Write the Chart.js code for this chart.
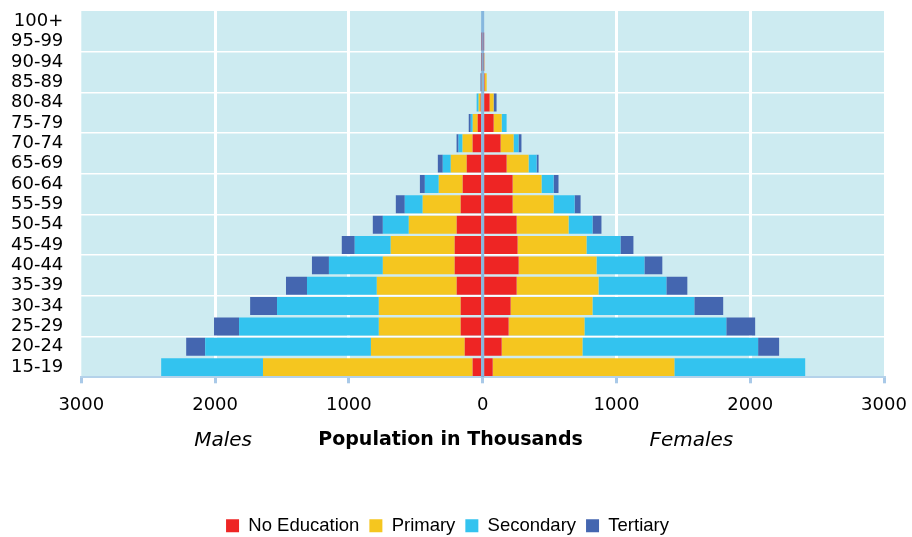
<!DOCTYPE html>
<html>
<head>
<meta charset="utf-8">
<script src="https://cdn.jsdelivr.net/npm/chart.js@4.4.1/dist/chart.umd.min.js"></script>
<style>
  html, body { margin: 0; padding: 0; background: #fff; }
  #wrap { width: 912px; height: 537px; }
</style>
</head>
<body>
<div id="wrap"><canvas id="chart"></canvas></div>
<script>
// age groups, top to bottom as in the picture
const ageGroups = ['100+', '95-99', '90-94', '85-89', '80-84', '75-79', '70-74', '65-69', '60-64',
  '55-59', '50-54', '45-49', '40-44', '35-39', '30-34', '25-29', '20-24', '15-19'];

// population in thousands, males
const maleNoEducation = [0, 1, 3, 8, 15, 37, 75, 119, 149, 164, 194, 209, 209, 194, 164, 164, 134, 75];
const malePrimary     = [0, 1, 5, 4, 15, 37, 75, 119, 179, 284, 358, 478, 537, 597, 612, 612, 701, 1567];
const maleSecondary   = [0, 0, 0, 0, 15, 15, 30, 60, 104, 134, 194, 269, 403, 522, 761, 1045, 1239, 761];
const maleTertiary    = [0, 0, 0, 4, 0, 15, 15, 37, 37, 67, 75, 97, 127, 157, 201, 187, 142, 0];

// population in thousands, females
const femaleNoEducation = [0, 2, 4, 15, 52, 82, 134, 179, 224, 224, 254, 261, 269, 254, 209, 194, 142, 75];
const femalePrimary     = [0, 1, 8, 15, 30, 60, 97, 164, 216, 306, 388, 515, 582, 612, 612, 567, 604, 1358];
const femaleSecondary   = [0, 0, 0, 0, 0, 37, 37, 60, 90, 157, 179, 254, 358, 507, 761, 1060, 1313, 978];
const femaleTertiary    = [0, 0, 0, 0, 22, 0, 22, 15, 37, 45, 67, 97, 134, 157, 216, 216, 157, 0];

const levels = ['No Education', 'Primary', 'Secondary', 'Tertiary'];
const colors = ['#ee2524', '#f5c61f', '#33c3ef', '#4466b0'];

const males = [maleNoEducation, malePrimary, maleSecondary, maleTertiary];
const females = [femaleNoEducation, femalePrimary, femaleSecondary, femaleTertiary];

const makeSet = (label, values, color) => ({
  label: label,
  data: values,
  backgroundColor: color,
  borderWidth: 0,
  barPercentage: 0.88,
  categoryPercentage: 1
});

const datasets = [
  ...males.map((arr, i) => makeSet(levels[i], arr.map(v => -v), colors[i])),
  ...females.map((arr, i) => makeSet(levels[i], arr, colors[i]))
];

// light blue plot background
const plotBg = {
  id: 'plotBg',
  beforeDraw(chart) {
    const {ctx, chartArea: a} = chart;
    ctx.save();
    ctx.fillStyle = '#cdebf1';
    ctx.fillRect(a.left, a.top, a.right - a.left, a.bottom - a.top);
    ctx.restore();
  }
};

// zero line over the bars + the texts under the axis
const extras = {
  id: 'extras',
  afterDatasetsDraw(chart) {
    const {ctx, chartArea: a} = chart;
    const x0 = chart.scales.x.getPixelForValue(0);
    ctx.save();
    ctx.strokeStyle = 'rgba(110,165,215,0.75)';
    ctx.lineWidth = 3;
    ctx.beginPath();
    ctx.moveTo(x0, a.top);
    ctx.lineTo(x0, a.bottom);
    ctx.stroke();
    ctx.restore();
  },
  afterDraw(chart) {
    const {ctx} = chart;
    const xs = chart.scales.x;
    const y = xs.top + 63;
    ctx.save();
    ctx.fillStyle = '#000';
    ctx.textBaseline = 'middle';
    ctx.textAlign = 'center';
    ctx.font = 'italic 20px "DejaVu Sans"';
    ctx.fillText('Males', xs.getPixelForValue(-1940), y);
    ctx.fillText('Females', xs.getPixelForValue(1560), y);
    ctx.font = 'bold 19px "DejaVu Sans"';
    ctx.fillText('Population in Thousands', xs.getPixelForValue(-240), y);
    ctx.restore();
  }
};

new Chart(document.getElementById('chart'), {
  type: 'bar',
  data: { labels: ageGroups, datasets: datasets },
  options: {
    indexAxis: 'y',
    responsive: true,
    maintainAspectRatio: false,
    animation: false,
    layout: { padding: { left: 11, right: 28, top: 11, bottom: -8 } },
    scales: {
      x: {
        stacked: true,
        min: -3000,
        max: 3000,
        afterFit(scale) { scale.height += 79; },
        ticks: {
          stepSize: 1000,
          padding: 5,
          color: '#000',
          font: { family: 'DejaVu Sans', size: 18, lineHeight: 1.9 },
          callback: v => Math.abs(v)
        },
        grid: {
          color: c => (c.tick && (c.tick.value === 0 || Math.abs(c.tick.value) === 3000)) ? 'rgba(0,0,0,0)' : '#ffffff',
          lineWidth: 3,
          tickColor: '#a9c9e8',
          tickLength: 6
        },
        border: { color: '#b4d2ea', width: 2 }
      },
      y: {
        stacked: true,
        ticks: {
          autoSkip: false,
          padding: 0,
          color: '#000',
          font: { family: 'DejaVu Sans', size: 18, lineHeight: 1 }
        },
        grid: {
          offset: true,
          drawTicks: true,
          tickLength: 18,
          tickColor: 'rgba(0,0,0,0)',
          lineWidth: 1.5,
          color: c => (c.index > 0 && c.index < ageGroups.length && c.index % 2 === 0) ? '#ffffff' : 'rgba(0,0,0,0)'
        },
        border: { display: false }
      }
    },
    plugins: {
      tooltip: { enabled: false },
      legend: {
        position: 'bottom',
        labels: {
          filter: item => item.datasetIndex >= 4,
          boxWidth: 13,
          boxHeight: 13,
          padding: 10,
          color: '#000',
          font: { family: 'Liberation Sans', size: 18.5 }
        }
      }
    }
  },
  plugins: [plotBg, extras]
});
</script>
</body>
</html>
